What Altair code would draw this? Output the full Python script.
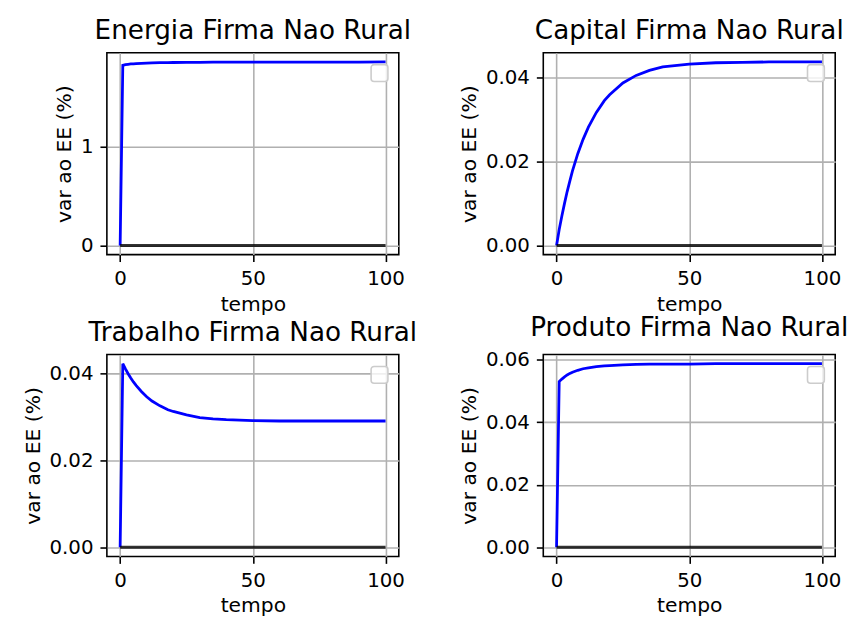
import altair as alt
import pandas as pd

# time points (periods)
T = [0, 1, 2, 3, 4, 5, 6, 8, 10, 12, 15, 18, 20, 25, 30, 35, 40, 50, 60, 70, 80, 90, 100]

energia = [0, 1.825, 1.832, 1.836, 1.839, 1.841, 1.843, 1.846, 1.848, 1.850, 1.852, 1.853,
           1.854, 1.855, 1.856, 1.857, 1.857, 1.858, 1.858, 1.859, 1.859, 1.859, 1.86]
capital = [0, 0.0038, 0.0070, 0.0100, 0.0128, 0.0153, 0.0177, 0.0218, 0.0252, 0.0281, 0.0316,
           0.0344, 0.0358, 0.0386, 0.0404, 0.0416, 0.0424, 0.0431, 0.0434, 0.0435, 0.0436,
           0.0436, 0.0436]
trabalho = [0, 0.0423, 0.0411, 0.0400, 0.0390, 0.0381, 0.0373, 0.0359, 0.0347, 0.0337, 0.0326,
            0.0317, 0.0313, 0.0305, 0.0299, 0.0296, 0.0294, 0.0292, 0.0291, 0.0291, 0.0291,
            0.0291, 0.0291]
produto = [0, 0.0530, 0.0538, 0.0545, 0.0551, 0.0556, 0.0560, 0.0566, 0.0571, 0.0574, 0.0578,
           0.0580, 0.0581, 0.0583, 0.0585, 0.0586, 0.0586, 0.0586, 0.0587, 0.0587, 0.0587,
           0.0587, 0.0587]
steady = [0] * len(T)

titles = ["Energia Firma Nao Rural", "Capital Firma Nao Rural",
          "Trabalho Firma Nao Rural", "Produto Firma Nao Rural"]
series = [energia, capital, trabalho, produto]
ydomains = [[-0.093, 1.953], [-0.00218, 0.04578], [-0.002115, 0.044415], [-0.002935, 0.061635]]
yticks = [[0, 1], [0, 0.02, 0.04], [0, 0.02, 0.04], [0, 0.02, 0.04, 0.06]]
yfmts = ["d", ".2f", ".2f", ".2f"]
xticks = [0, 50, 100]

FONT = "DejaVu Sans"
W, H = 295, 204


def panel(title, vals, ydom, yvals, fmt):
    df = pd.DataFrame({"t": T, "v": vals, "ee": steady})
    x = alt.X("t:Q", scale=alt.Scale(domain=[-5, 105], nice=False, zero=False),
              axis=alt.Axis(values=xticks, title="tempo", format="d"))
    yaxis = alt.Axis(values=yvals, format=fmt, title="var ao EE (%)")
    blue = alt.Chart(df).mark_line(color="#0000ff", strokeWidth=2.8).encode(
        x=x,
        y=alt.Y("v:Q", scale=alt.Scale(domain=ydom, nice=False, zero=False), axis=yaxis),
    )
    black = alt.Chart(df).mark_line(color="black", opacity=0.8, strokeWidth=3).encode(
        x=x,
        y=alt.Y("ee:Q"),
    )
    # empty legend frame (as in the original figure)
    legend_box = alt.Chart(pd.DataFrame({"k": [0]})).mark_rect(
        fill="white", fillOpacity=0.8, stroke="#cccccc", strokeWidth=1.6, cornerRadius=3
    ).encode(
        x=alt.value(W - 28), x2=alt.value(W - 11), y=alt.value(12), y2=alt.value(29)
    )
    return alt.layer(blue, black, legend_box).properties(
        width=W, height=H,
        title=alt.TitleParams(title, fontSize=26.5, font=FONT, fontWeight="normal",
                              color="black", offset=8, anchor="middle"),
    )


panels = [panel(*a) for a in zip(titles, series, ydomains, yticks, yfmts)]

chart = alt.concat(*panels, columns=2, spacing={"row": 101, "column": 146}, bounds="flush").properties(
    padding={"left": 22, "top": 14, "right": 5, "bottom": 5},
    background="white",
).configure_view(
    stroke="black", strokeWidth=1.6
).configure_axis(
    labelFont=FONT, labelFontSize=20, labelColor="black",
    titleFont=FONT, titleFontSize=20.5, titleFontWeight="normal", titleColor="black",
    tickSize=7, tickWidth=1.6, tickColor="black", labelPadding=7, titlePadding=6,
    domain=False, grid=True, gridColor="#b0b0b0", gridWidth=1.6,
)

chart.save("out.html", embed_options={"renderer": "svg", "actions": False})
